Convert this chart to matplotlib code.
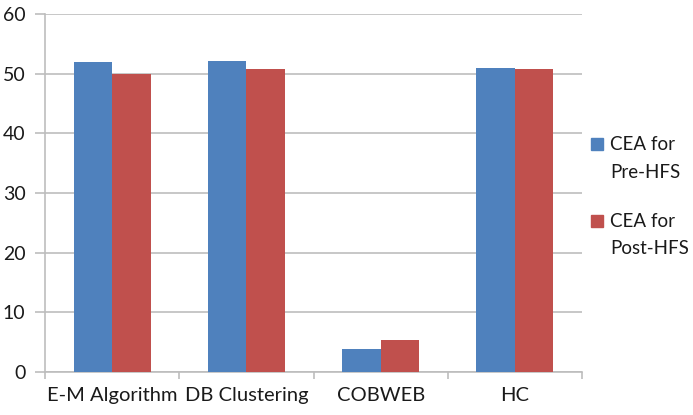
import matplotlib
matplotlib.use("Agg")
import matplotlib.pyplot as plt
import numpy as np
from matplotlib.patches import Rectangle

categories = ["E-M Algorithm", "DB Clustering", "COBWEB", "HC"]
pre_hfs = [51.9, 52.2, 3.9, 51.0]
post_hfs = [49.9, 50.8, 5.4, 50.7]
series_labels = ["CEA for\nPre-HFS", "CEA for\nPost-HFS"]
colors = ["#4F81BD", "#C0504D"]
yticks = [0, 10, 20, 30, 40, 50, 60]

plt.rcParams["font.family"] = ["Lato", "DejaVu Sans"]
grid_c = "#BDBDBD"
text_c = "#1A1A1A"

fig = plt.figure(figsize=(6.93, 4.15), dpi=100)
ax = fig.add_axes([45 / 693, 1 - 372 / 415, (582 - 45) / 693, (372 - 14) / 415])

x = np.arange(len(categories))
w = 0.287
ax.bar(x - w / 2, pre_hfs, w, color=colors[0], zorder=3)
ax.bar(x + w / 2, post_hfs, w, color=colors[1], zorder=3)

ax.set_xlim(-0.5, len(categories) - 0.5)
ax.set_ylim(0, 60)
ax.set_yticks(yticks)
ax.yaxis.grid(True, color=grid_c, linewidth=1.2, zorder=0)
ax.set_axisbelow(True)

ax.set_xticks(x)
ax.set_xticklabels(categories)
ax.set_xticks(np.arange(len(categories) + 1) - 0.5, minor=True)
ax.tick_params(axis="x", which="major", length=0, pad=11, labelsize=14.5, colors=text_c)
ax.tick_params(axis="x", which="minor", length=5, width=1.2, color=grid_c, direction="out")
ax.tick_params(axis="y", length=7, width=1.2, color=grid_c, pad=7, labelsize=14, labelcolor=text_c)

for s in ["top", "right"]:
    ax.spines[s].set_visible(False)
for s in ["left", "bottom"]:
    ax.spines[s].set_color(grid_c)
    ax.spines[s].set_linewidth(1.2)

# legend drawn as swatches with two-line labels
legend_rows = [(144, 172), (221, 248)]
for (y1, y2), lab, c in zip(legend_rows, series_labels, colors):
    fig.add_artist(Rectangle((591 / 693, 1 - (y1 + 6) / 415), 12 / 693, 12 / 415,
                             transform=fig.transFigure, color=c))
    l1, l2 = lab.split("\n")
    fig.text(610 / 693, 1 - y1 / 415, l1, va="center", ha="left", fontsize=13.5, color=text_c)
    fig.text(610 / 693, 1 - y2 / 415, l2, va="center", ha="left", fontsize=13.5, color=text_c)

fig.savefig("out.png", dpi=100)
